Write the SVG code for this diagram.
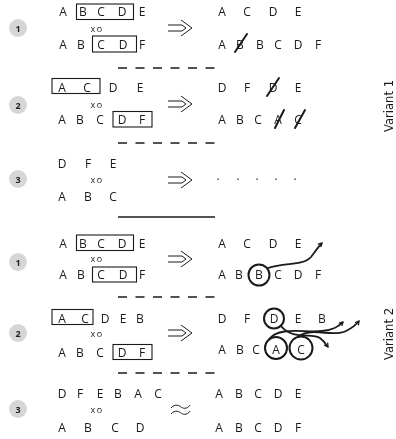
<svg xmlns="http://www.w3.org/2000/svg" width="396" height="439" viewBox="0 0 396 439">
<defs>
<style>
.t{font-family:"Open Sans","Liberation Sans",sans-serif;font-size:12px;fill:#1a1a1a;text-anchor:middle}
.xo{font-family:"Open Sans","Liberation Sans",sans-serif;font-size:9px;fill:#1a1a1a;text-anchor:middle;letter-spacing:1.5px}
.n{font-family:"Open Sans","Liberation Sans",sans-serif;font-size:9px;font-weight:bold;fill:#222;text-anchor:middle}
.nc{fill:#d6d6d6}
.bx{fill:none;stroke:#1a1a1a;stroke-width:1.1}
.ar{fill:none;stroke:#1a1a1a;stroke-width:1}
.dash{stroke:#1a1a1a;stroke-width:1.3;stroke-dasharray:9 8.5}
.sol{stroke:#1a1a1a;stroke-width:1.6}
.sl{stroke:#1a1a1a;stroke-width:2;stroke-linecap:round}
.cir{fill:none;stroke:#1a1a1a;stroke-width:2}
.cv{fill:none;stroke:#1a1a1a;stroke-width:1.8;marker-end:url(#ah)}
.lab{font-family:"Liberation Sans Narrow","DejaVu Sans Condensed","Liberation Sans",sans-serif;font-size:12px;fill:#1a1a1a;text-anchor:middle}
</style>
<marker id="ah" viewBox="0 0 10 10" refX="8" refY="5" markerWidth="5.5" markerHeight="5.5" orient="auto" markerUnits="userSpaceOnUse">
<path d="M1,1 L8,5 L1,9" fill="none" stroke="#1a1a1a" stroke-width="2.2"/>
</marker>
<path id="imp" d="M0,-3 H14 M0,3 H14 M13,-8 L24,0 L13,8 M14,-3 L18,0 L14,3" class="ar"/>
</defs>
<g style="opacity:0.999">
<g id="v1-row1">
<circle class="nc" cx="18" cy="28" r="9"/><text class="n" x="18" y="31.5">1</text>
<text class="t" y="16"><tspan x="63">A</tspan><tspan x="83">B</tspan><tspan x="101">C</tspan><tspan x="122">D</tspan><tspan x="142">E</tspan></text>
<rect class="bx" x="76.5" y="4" width="57" height="15.5"/>
<text class="xo" x="97" y="31.5">xo</text>
<text class="t" y="48.5"><tspan x="63">A</tspan><tspan x="81">B</tspan><tspan x="101">C</tspan><tspan x="123">D</tspan><tspan x="142">F</tspan></text>
<rect class="bx" x="92.5" y="36" width="44" height="16"/>
<use href="#imp" x="168" y="28"/>
<text class="t" y="16"><tspan x="222">A</tspan><tspan x="247">C</tspan><tspan x="273">D</tspan><tspan x="298">E</tspan></text>
<text class="t" y="48.5"><tspan x="222">A</tspan><tspan x="240">B</tspan><tspan x="260">B</tspan><tspan x="278">C</tspan><tspan x="298">D</tspan><tspan x="318">F</tspan></text>
<line class="sl" x1="235" y1="52" x2="247" y2="34"/>
</g>
<line class="dash" x1="118" y1="68" x2="216" y2="68"/>

<g id="v1-row2">
<circle class="nc" cx="18" cy="105" r="9"/><text class="n" x="18" y="108.5">2</text>
<text class="t" y="91.5"><tspan x="62">A</tspan><tspan x="87">C</tspan><tspan x="113">D</tspan><tspan x="140">E</tspan></text>
<rect class="bx" x="52" y="78.5" width="48" height="15"/>
<text class="xo" x="97" y="107.5">xo</text>
<text class="t" y="123.5"><tspan x="62">A</tspan><tspan x="80">B</tspan><tspan x="100">C</tspan><tspan x="122">D</tspan><tspan x="142">F</tspan></text>
<rect class="bx" x="113" y="111.5" width="39" height="15.5"/>
<use href="#imp" x="168" y="104"/>
<text class="t" y="91.5"><tspan x="222">D</tspan><tspan x="247">F</tspan><tspan x="273">D</tspan><tspan x="298">E</tspan></text>
<line class="sl" x1="267" y1="96" x2="279" y2="78"/>
<text class="t" y="123.5"><tspan x="222">A</tspan><tspan x="240">B</tspan><tspan x="258">C</tspan><tspan x="278">A</tspan><tspan x="298">C</tspan></text>
<line class="sl" x1="275" y1="128" x2="284" y2="110"/>
<line class="sl" x1="295" y1="128" x2="305" y2="110"/>
</g>
<line class="dash" x1="118" y1="143" x2="216" y2="143"/>

<g id="v1-row3">
<circle class="nc" cx="18" cy="179" r="9"/><text class="n" x="18" y="182.5">3</text>
<text class="t" y="167.5"><tspan x="62">D</tspan><tspan x="88">F</tspan><tspan x="113">E</tspan></text>
<text class="xo" x="97" y="182.5">xo</text>
<text class="t" y="200.5"><tspan x="62">A</tspan><tspan x="88">B</tspan><tspan x="113">C</tspan></text>
<use href="#imp" x="168" y="180"/>
<text class="t" y="180"><tspan x="218">.</tspan><tspan x="238">.</tspan><tspan x="257">.</tspan><tspan x="276">.</tspan><tspan x="295">.</tspan></text>
</g>
<text class="lab" transform="translate(393,106) rotate(-90)" textLength="52" lengthAdjust="spacingAndGlyphs">Variant 1</text>

<line class="sol" x1="118" y1="217" x2="215" y2="217"/>

<g id="v2-row1">
<circle class="nc" cx="18" cy="262" r="9"/><text class="n" x="18" y="265.5">1</text>
<text class="t" y="247.5"><tspan x="63">A</tspan><tspan x="83">B</tspan><tspan x="101">C</tspan><tspan x="122">D</tspan><tspan x="142">E</tspan></text>
<rect class="bx" x="76.5" y="235" width="57" height="15.5"/>
<text class="xo" x="97" y="261.5">xo</text>
<text class="t" y="279"><tspan x="63">A</tspan><tspan x="81">B</tspan><tspan x="101">C</tspan><tspan x="123">D</tspan><tspan x="142">F</tspan></text>
<rect class="bx" x="92.5" y="267" width="44" height="15"/>
<use href="#imp" x="168" y="259"/>
<text class="t" y="247.5"><tspan x="222">A</tspan><tspan x="247">C</tspan><tspan x="273">D</tspan><tspan x="298">E</tspan></text>
<text class="t" y="279"><tspan x="222">A</tspan><tspan x="239">B</tspan><tspan x="259">B</tspan><tspan x="278">C</tspan><tspan x="298">D</tspan><tspan x="318">F</tspan></text>
<circle class="cir" cx="259" cy="275" r="10.5"/>
</g>
<line class="dash" x1="118" y1="297" x2="216" y2="297"/>

<g id="v2-row2">
<circle class="nc" cx="18" cy="333" r="9"/><text class="n" x="18" y="336.5">2</text>
<text class="t" y="322.5"><tspan x="62">A</tspan><tspan x="85">C</tspan><tspan x="105">D</tspan><tspan x="123">E</tspan><tspan x="140">B</tspan></text>
<rect class="bx" x="52" y="309.5" width="41" height="15"/>
<text class="xo" x="97" y="336.5">xo</text>
<text class="t" y="356.5"><tspan x="62">A</tspan><tspan x="80">B</tspan><tspan x="100">C</tspan><tspan x="122">D</tspan><tspan x="142">F</tspan></text>
<rect class="bx" x="113" y="344.5" width="39" height="15"/>
<use href="#imp" x="168" y="333"/>
<text class="t" y="322.5"><tspan x="222">D</tspan><tspan x="247">F</tspan><tspan x="274">D</tspan><tspan x="298">E</tspan><tspan x="322">B</tspan></text>
<circle class="cir" cx="274" cy="318.5" r="10"/>
<text class="t" y="353.5"><tspan x="222">A</tspan><tspan x="240">B</tspan><tspan x="256">C</tspan><tspan x="276">A</tspan><tspan x="301">C</tspan></text>
<circle class="cir" cx="276" cy="348" r="11"/>
<circle class="cir" cx="301" cy="348" r="11.5"/>
</g>
<line class="dash" x1="118" y1="373" x2="216" y2="373"/>

<g id="v2-row3">
<circle class="nc" cx="18" cy="409" r="9"/><text class="n" x="18" y="412.5">3</text>
<text class="t" y="397.5"><tspan x="62">D</tspan><tspan x="80">F</tspan><tspan x="100">E</tspan><tspan x="118">B</tspan><tspan x="138">A</tspan><tspan x="158">C</tspan></text>
<text class="xo" x="97" y="412.5">xo</text>
<text class="t" y="431.5"><tspan x="62">A</tspan><tspan x="88">B</tspan><tspan x="115">C</tspan><tspan x="140">D</tspan></text>
<path class="ar" d="M171,408 C175,403 180,406 181,407 S187,410 190,405 M171,414 C175,409 180,412 181,413 S187,416 190,411" stroke-width="1.2"/>
<text class="t" y="397.5"><tspan x="219">A</tspan><tspan x="239">B</tspan><tspan x="258">C</tspan><tspan x="278">D</tspan><tspan x="298">E</tspan></text>
<text class="t" y="431.5"><tspan x="219">A</tspan><tspan x="239">B</tspan><tspan x="258">C</tspan><tspan x="278">D</tspan><tspan x="298">F</tspan></text>
</g>
<text class="lab" transform="translate(393,334) rotate(-90)" textLength="52" lengthAdjust="spacingAndGlyphs">Variant 2</text>

<g id="connectors">
<path class="cv" d="M268,268 C285,262 303,266 311,257 C315,252 318,247 322,243"/>
<path class="cv" d="M281,326 C292,340 312,333 320,338 C324,341 326,344 328,347"/>
<path class="cv" d="M269,339 C280,326 305,333 322,331 C333,330 338,327 343,322"/>
<path class="cv" d="M298,337 C312,326 333,338 346,331 C352,328 356,325 359,321"/>
</g>
</g>
</svg>
